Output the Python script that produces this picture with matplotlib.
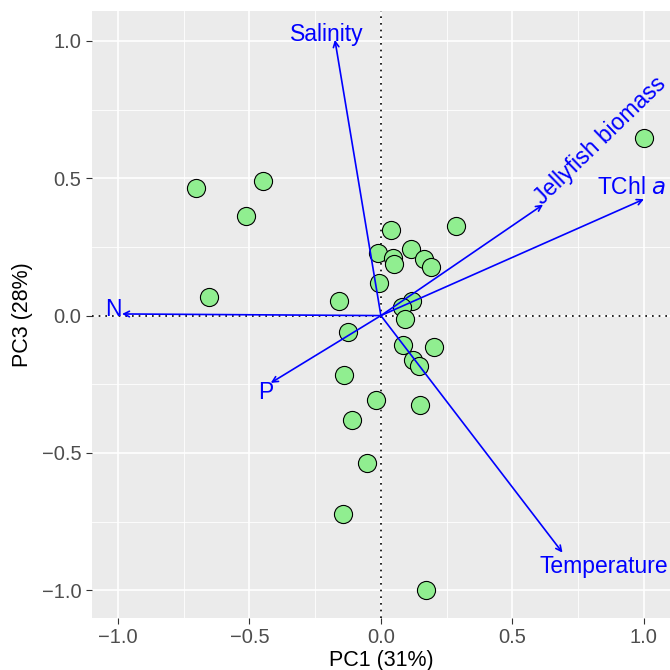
import matplotlib.pyplot as plt
from matplotlib.ticker import MultipleLocator

# sample scores
pc1 = [-0.702, -0.447, -0.513, -0.655, 0.037, 0.285, -0.011, 0.047, 0.051, 0.115,
       0.165, 0.191, -0.009, -0.160, 0.120, 0.080, 0.092, -0.124, 0.085, 0.203,
       0.123, 0.146, -0.139, -0.020, 0.147, -0.109, -0.053, -0.144, 0.173, 1.000]
pc3 = [0.465, 0.491, 0.362, 0.068, 0.313, 0.325, 0.228, 0.210, 0.188, 0.244,
       0.206, 0.176, 0.117, 0.053, 0.052, 0.033, -0.012, -0.061, -0.107, -0.116,
       -0.161, -0.184, -0.215, -0.307, -0.326, -0.381, -0.538, -0.724, -1.000, 0.647]

# variable loadings
var_names = ["Salinity", "N", "P", "Jellyfish biomass", "TChl $a$", "Temperature"]
var_x = [-0.175, -0.985, -0.419, 0.617, 1.001, 0.691]
var_y = [1.004, 0.006, -0.245, 0.404, 0.424, -0.863]
label_x = [-0.207, -1.018, -0.437, 0.628, 0.953, 0.849]
label_y = [1.025, 0.024, -0.279, 0.388, 0.467, -0.915]

plt.rcParams["font.family"] = ["Liberation Sans", "DejaVu Sans"]

fig = plt.figure(figsize=(6.7, 6.7), dpi=100)
ax = fig.add_axes([0.137, 0.078, 0.863, 0.906])
ax.set_facecolor("#EBEBEB")
for s in ax.spines.values():
    s.set_visible(False)

ax.set_xlim(-1.1, 1.1)
ax.set_ylim(-1.1, 1.11)
ax.xaxis.set_major_locator(MultipleLocator(0.5))
ax.yaxis.set_major_locator(MultipleLocator(0.5))
ax.xaxis.set_minor_locator(MultipleLocator(0.25))
ax.yaxis.set_minor_locator(MultipleLocator(0.25))
ax.grid(which="major", color="white", linewidth=1.2)
ax.grid(which="minor", color="white", linewidth=0.6)
ax.set_axisbelow(True)
ax.tick_params(which="major", length=4, color="#333333", labelsize=14.5, labelcolor="#4D4D4D")
ax.tick_params(which="minor", length=0)
fmt = plt.FuncFormatter(lambda v, p: f"{v:.1f}".replace("-", "\u2212"))
ax.xaxis.set_major_formatter(fmt)
ax.yaxis.set_major_formatter(fmt)

ax.axhline(0, color="black", linestyle=(0, (1, 3)), linewidth=1.2, zorder=1)
ax.axvline(0, color="black", linestyle=(0, (1, 3)), linewidth=1.2, zorder=1)

ax.scatter(pc1, pc3, s=170, facecolor="#90EE90", edgecolor="black", linewidth=0.8, zorder=2)

for name, vx, vy, lx, ly in zip(var_names, var_x, var_y, label_x, label_y):
    ax.annotate("", xy=(vx, vy), xytext=(0, 0),
                arrowprops=dict(arrowstyle="->,head_length=0.4,head_width=0.2",
                                color="blue", linewidth=1.2, shrinkA=0, shrinkB=0),
                zorder=3)
    if name == "Jellyfish biomass":
        ax.text(lx, ly, name, color="blue", fontsize=16.5, rotation=44,
                rotation_mode="anchor", ha="left", va="bottom", zorder=4)
    else:
        ax.text(lx, ly, name, color="blue", fontsize=16.5, ha="center", va="center", zorder=4)

ax.set_xlabel("PC1 (31%)", fontsize=15.5, labelpad=2)
ax.set_ylabel("PC3 (28%)", fontsize=15.5, labelpad=6)

fig.savefig("out.png", dpi=100)
